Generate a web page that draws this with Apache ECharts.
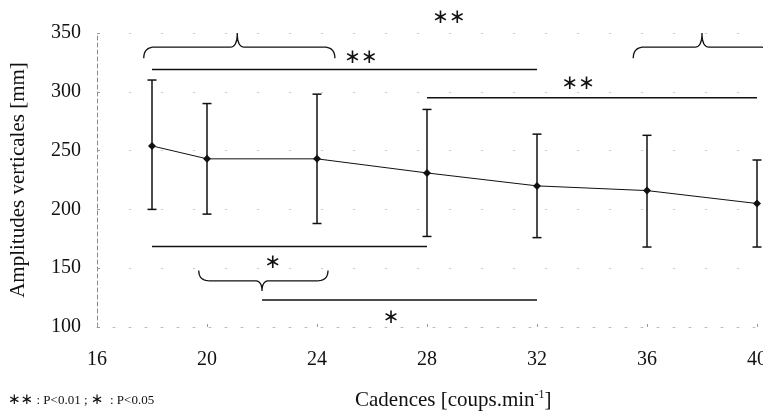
<!DOCTYPE html>
<html><head><meta charset="utf-8">
<script src="https://cdn.jsdelivr.net/npm/echarts@6/dist/echarts.min.js"></script>
<style>html,body{margin:0;padding:0;background:#fff}#c{width:763px;height:416px}</style>
</head><body><div id="c"></div>
<script>
// ---- data ----
const cadences = [18, 20, 24, 28, 32, 36, 40];
const meanAmp  = [254, 243, 243, 231, 220, 216, 205];
const upperAmp = [310, 290, 298, 285, 264, 263, 242];
const lowerAmp = [200, 196, 188, 177, 176, 168, 168];
const xTicks = [16, 20, 24, 28, 32, 36, 40];
const yTicks = [100, 150, 200, 250, 300, 350];
// significance lines
const sigLineStart = [18, 28, 18, 22];
const sigLineEnd   = [32, 40, 28, 32];
const sigLineY     = [319, 295, 168.5, 123];
// braces
const braceStart      = [17.7, 35.5, 19.7];
const bracePeak       = [21.1, 38.0, 22.0];
const braceEnd        = [24.65, 40.5, 24.4];
const braceLevel      = [338, 338, 139.3];
const bracePeakLevel  = [350, 350, 130.7];
const braceEndLevel   = [328.5, 328.5, 148];
// significance marks
const markX    = [28.8, 25.6, 33.5, 22.4, 26.7];
const markY    = [363, 328.7, 307, 155, 108];
const markText = ['**', '**', '**', '*', '*'];

const INK = '#111';
const SERIF = '"Liberation Serif", "DejaVu Serif", serif';
const STAR = '"DejaVu Sans", sans-serif';

function quad(p0, c, p1, n) {
  const pts = [];
  for (let i = 1; i <= n; i++) {
    const t = i / n, u = 1 - t;
    pts.push([u*u*p0[0] + 2*u*t*c[0] + t*t*p1[0], u*u*p0[1] + 2*u*t*c[1] + t*t*p1[1]]);
  }
  return pts;
}

const chart = echarts.init(document.getElementById('c'));
chart.setOption({
  animation: false,
  backgroundColor: '#fff',
  grid: { left: 97, right: 6, top: 33, bottom: 89, outerBoundsMode: 'none', containLabel: false },
  xAxis: {
    type: 'value', min: xTicks[0], max: xTicks[xTicks.length - 1], interval: xTicks[1] - xTicks[0],
    axisLine: { show: true, lineStyle: { color: '#bbb', type: [2, 14], width: 1 } },
    axisTick: { show: true, inside: true, length: 3, lineStyle: { color: '#999' } },
    axisLabel: { color: INK, fontFamily: SERIF, fontSize: 20, margin: 23 },
    splitLine: { show: false }
  },
  yAxis: {
    type: 'value', min: yTicks[0], max: yTicks[yTicks.length - 1], interval: yTicks[1] - yTicks[0],
    name: 'Amplitudes verticales [mm]', nameLocation: 'middle', nameGap: 68,
    nameTextStyle: { color: INK, fontFamily: SERIF, fontSize: 21 },
    axisLine: { show: true, lineStyle: { color: '#888', type: [4, 3], width: 1 } },
    axisTick: { show: true, inside: true, length: 3, lineStyle: { color: '#999' } },
    axisLabel: { color: INK, fontFamily: SERIF, fontSize: 20, margin: 16 },
    splitLine: { show: true, lineStyle: { color: '#ccc', type: [2, 30], width: 1 } }
  },
  graphic: [
    { type: 'text', left: 355, top: 389, style: {
      text: 'Cadences [coups.min{s|-1}]',
      fill: INK, font: '21px ' + SERIF,
      rich: { s: { fontSize: 12, fontFamily: SERIF, fill: INK, verticalAlign: 'top', padding: [0, 0, 10, 0] } }
    } },
    { type: 'text', left: 8, top: 393, style: {
      text: '{a|∗∗} {b|: P<0.01 ;} {a|∗} {b| : P<0.05}',
      rich: {
        a: { fontSize: 15, fontFamily: STAR, fill: INK },
        b: { fontSize: 13, fontFamily: SERIF, fill: INK }
      }
    } }
  ],
  series: [
    {
      type: 'custom', name: 'errors', z: 3,
      data: cadences.map((x, i) => [x, lowerAmp[i], upperAmp[i]]),
      encode: { x: 0, y: [1, 2] },
      renderItem(params, api) {
        const pl = api.coord([api.value(0), api.value(1)]);
        const ph = api.coord([api.value(0), api.value(2)]);
        const w = 4.5, st = { stroke: INK, lineWidth: 1.5 };
        return { type: 'group', children: [
          { type: 'line', shape: { x1: pl[0], y1: pl[1], x2: ph[0], y2: ph[1] }, style: st },
          { type: 'line', shape: { x1: ph[0] - w, y1: ph[1], x2: ph[0] + w, y2: ph[1] }, style: st },
          { type: 'line', shape: { x1: pl[0] - w, y1: pl[1], x2: pl[0] + w, y2: pl[1] }, style: st }
        ] };
      }
    },
    {
      type: 'line', name: 'mean', z: 4,
      data: cadences.map((x, i) => [x, meanAmp[i]]),
      symbol: 'diamond', symbolSize: 8,
      itemStyle: { color: INK },
      lineStyle: { color: INK, width: 1 }
    },
    {
      type: 'custom', name: 'sigLines', z: 2,
      data: sigLineStart.map((s, i) => [s, sigLineEnd[i], sigLineY[i]]),
      encode: { x: [0, 1], y: 2 },
      renderItem(params, api) {
        const a = api.coord([api.value(0), api.value(2)]);
        const b = api.coord([api.value(1), api.value(2)]);
        return { type: 'line', shape: { x1: a[0], y1: a[1], x2: b[0], y2: b[1] },
          style: { stroke: INK, lineWidth: 1.5 } };
      }
    },
    {
      type: 'custom', name: 'braces', z: 2, clip: false,
      data: braceStart.map((s, i) => [s, bracePeak[i], braceEnd[i], braceLevel[i], bracePeakLevel[i], braceEndLevel[i]]),
      encode: { x: [0, 1, 2], y: [3, 4, 5] },
      renderItem(params, api) {
        const x0 = api.coord([api.value(0), api.value(3)])[0];
        const xm = api.coord([api.value(1), api.value(3)])[0];
        const x1 = api.coord([api.value(2), api.value(3)])[0];
        const yL = api.coord([api.value(0), api.value(3)])[1];
        const yP = api.coord([api.value(0), api.value(4)])[1];
        const yE = api.coord([api.value(0), api.value(5)])[1];
        const r = 11, r2 = 7;
        let pts = [[x0, yE]];
        pts = pts.concat(quad([x0, yE], [x0, yL], [x0 + r, yL], 10));
        pts.push([xm - r2, yL]);
        pts = pts.concat(quad([xm - r2, yL], [xm, yL], [xm, yP], 8));
        pts = pts.concat(quad([xm, yP], [xm, yL], [xm + r2, yL], 8));
        pts.push([x1 - r, yL]);
        pts = pts.concat(quad([x1 - r, yL], [x1, yL], [x1, yE], 10));
        return { type: 'polyline', shape: { points: pts },
          style: { stroke: INK, lineWidth: 1.3, fill: null } };
      }
    },
    {
      type: 'custom', name: 'marks', z: 5, clip: false,
      data: markX.map((x, i) => [x, markY[i]]),
      encode: { x: 0, y: 1 },
      renderItem(params, api) {
        const p = api.coord([api.value(0), api.value(1)]);
        const t = markText[params.dataIndex].replace(/\*/g, '∗');
        return { type: 'text', x: p[0], y: p[1], style: {
          text: t, fill: INK, font: '20px ' + STAR, align: 'center', verticalAlign: 'middle'
        } };
      }
    }
  ]
});
</script>
</body></html>
